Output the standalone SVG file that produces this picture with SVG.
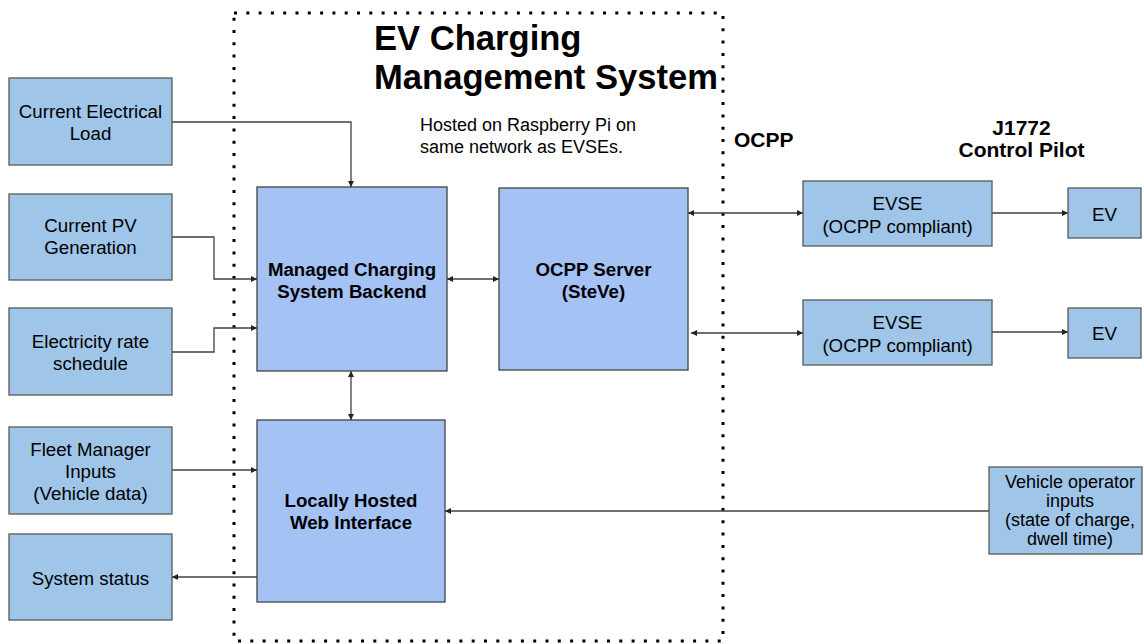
<svg xmlns="http://www.w3.org/2000/svg" width="1144" height="644" viewBox="0 0 1144 644">
<style>
.ext{fill:#9fc5e8;stroke:#595959;stroke-width:1.3}
.core{fill:#a4c2f4;stroke:#434343;stroke-width:1.3}
text{font-family:"Liberation Sans",Arial,sans-serif;font-size:18.7px;fill:#000}
.c{text-anchor:middle}
.b{font-weight:bold}
.ln{fill:none;stroke:#404040;stroke-width:1.3}
.dot{fill:none;stroke:#000;stroke-width:3;stroke-dasharray:3 9.3}
.sm{font-size:18px}
</style>
<defs>
<marker id="ah" viewBox="0 0 10 10" refX="10" refY="5" markerWidth="7" markerHeight="6" markerUnits="userSpaceOnUse" orient="auto-start-reverse">
<path d="M0,0 L10,5 L0,10 z" fill="#222"/>
</marker>
</defs>
<rect width="1144" height="644" fill="#fff"/>
<g id="boundary">
<rect class="dot" x="234" y="13" width="489" height="628"/>
<text class="b" x="374" y="50" style="font-size:34.6px">EV Charging</text>
<text class="b" x="374" y="89" style="font-size:34.6px">Management System</text>
<text class="sm" x="420" y="131">Hosted on Raspberry Pi on</text>
<text class="sm" x="420" y="153">same network as EVSEs.</text>
</g>
<g id="labels">
<text class="b" x="734" y="147" style="font-size:21px">OCPP</text>
<text class="b c" x="1021.5" y="135" style="font-size:21px">J1772</text>
<text class="b c" x="1021.5" y="157" style="font-size:21px">Control Pilot</text>
</g>
<g id="connectors">
<polyline class="ln" points="172,122 351,122 351,187" marker-end="url(#ah)"/>
<polyline class="ln" points="172,237 214,237 214,279 257,279" marker-end="url(#ah)"/>
<polyline class="ln" points="172,352 214,352 214,328 257,328" marker-end="url(#ah)"/>
<line class="ln" x1="447" y1="279" x2="499" y2="279" marker-start="url(#ah)" marker-end="url(#ah)"/>
<line class="ln" x1="351" y1="371" x2="351" y2="420" marker-start="url(#ah)" marker-end="url(#ah)"/>
<line class="ln" x1="688" y1="213" x2="803" y2="213" marker-start="url(#ah)" marker-end="url(#ah)"/>
<line class="ln" x1="691" y1="333" x2="803" y2="333" marker-start="url(#ah)" marker-end="url(#ah)"/>
<line class="ln" x1="992" y1="213" x2="1068" y2="213" marker-end="url(#ah)"/>
<line class="ln" x1="992" y1="332" x2="1068" y2="332" marker-end="url(#ah)"/>
<line class="ln" x1="172" y1="470" x2="257" y2="470" marker-end="url(#ah)"/>
<line class="ln" x1="257" y1="577" x2="172" y2="577" marker-end="url(#ah)"/>
<line class="ln" x1="989" y1="511" x2="445" y2="511" marker-end="url(#ah)"/>
</g>
<g id="load"><rect class="ext" x="9" y="78" width="163" height="87"/>
<text class="c" x="90.5" y="117.5">Current Electrical</text><text class="c" x="90.5" y="139.5">Load</text></g>
<g id="pv"><rect class="ext" x="9" y="194" width="163" height="86"/>
<text class="c" x="90.5" y="232">Current PV</text><text class="c" x="90.5" y="254">Generation</text></g>
<g id="rate"><rect class="ext" x="9" y="308" width="163" height="87"/>
<text class="c" x="90.5" y="348">Electricity rate</text><text class="c" x="90.5" y="370">schedule</text></g>
<g id="fleet"><rect class="ext" x="9" y="427" width="163" height="87"/>
<text class="c" x="90.5" y="455.5">Fleet Manager</text><text class="c" x="90.5" y="477.5">Inputs</text><text class="c" x="90.5" y="499.5">(Vehicle data)</text></g>
<g id="status"><rect class="ext" x="9" y="534" width="163" height="86"/>
<text class="c" x="90.5" y="584.5">System status</text></g>
<g id="backend"><rect class="core" x="257" y="187" width="190" height="184"/>
<text class="c b" x="352" y="275.5">Managed Charging</text><text class="c b" x="352" y="297.5">System Backend</text></g>
<g id="ocpp"><rect class="core" x="499" y="188" width="189" height="182"/>
<text class="c b" x="593.5" y="275.5">OCPP Server</text><text class="c b" x="593.5" y="298">(SteVe)</text></g>
<g id="web"><rect class="core" x="257" y="420" width="188" height="182"/>
<text class="c b" x="351" y="507">Locally Hosted</text><text class="c b" x="351" y="529">Web Interface</text></g>
<g id="evse1"><rect class="ext" x="803" y="181" width="189" height="65"/>
<text class="c" x="897.5" y="209.5">EVSE</text><text class="c" x="897.5" y="232.5">(OCPP compliant)</text></g>
<g id="evse2"><rect class="ext" x="803" y="300" width="189" height="65"/>
<text class="c" x="897.5" y="328.5">EVSE</text><text class="c" x="897.5" y="352">(OCPP compliant)</text></g>
<g id="ev1"><rect class="ext" x="1068" y="188" width="73" height="50"/>
<text class="c" x="1104.5" y="220.5">EV</text></g>
<g id="ev2"><rect class="ext" x="1068" y="308" width="73" height="50"/>
<text class="c" x="1104.5" y="339.5">EV</text></g>
<g id="operator"><rect class="ext" x="989" y="467" width="153" height="87"/>
<text class="c sm" x="1070" y="488">Vehicle operator</text><text class="c sm" x="1070" y="507">inputs</text><text class="c sm" x="1070" y="526">(state of charge,</text><text class="c sm" x="1070" y="545">dwell time)</text></g>
</svg>
